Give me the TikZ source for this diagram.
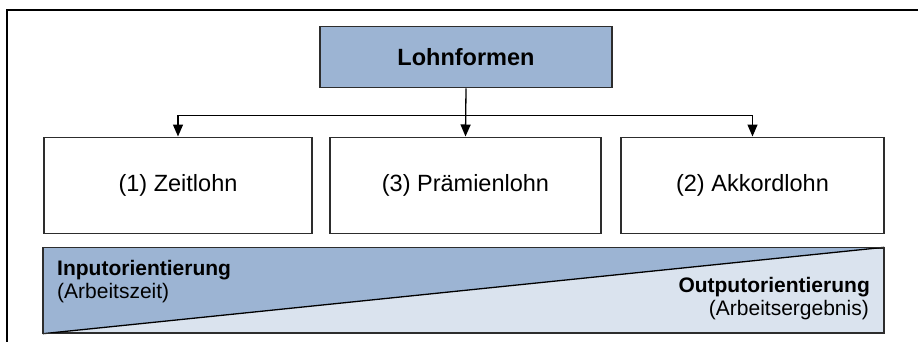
\documentclass[tikz,border=0pt]{standalone}
\usepackage{fontspec}
\setmainfont{Liberation Sans}
\usetikzlibrary{arrows.meta}
\definecolor{bluedark}{RGB}{156,180,211}
\definecolor{bluelight}{RGB}{218,227,238}
\definecolor{edgegray}{RGB}{45,45,45}
\begin{document}
\begin{tikzpicture}[x=1pt,y=-1pt,
  box/.style={draw=edgegray, line width=1.4pt, fill=white, inner sep=0pt,
              font=\fontsize{23.5}{28}\selectfont, minimum height=96pt},
  headbox/.style={box, fill=bluedark, font=\fontsize{23.5}{28}\selectfont\bfseries,
              minimum width=292pt, minimum height=61pt},
  conn/.style={draw=black, line width=1.3pt, -{Triangle[width=10pt,length=12pt]}},
  bandtitle/.style={inner sep=0pt, font=\fontsize{21}{25}\selectfont\bfseries},
  bandnote/.style={inner sep=0pt, font=\fontsize{21}{25}\selectfont}]
\useasboundingbox (0,0) rectangle (918,341);

% outer frame, only its top and left edges fall inside the page
\draw[line width=1.5pt, black] (7,345) -- (7,10) -- (925,10);

% root and the three wage forms
\node[headbox] (top) at (466,57.2) {Lohnformen};
\node[box, minimum width=268pt] (z) at (178,185.2) {(1) Zeitlohn};
\node[box, minimum width=271pt] (p) at (465.5,185.2) {(3) Prämienlohn};
\node[box, minimum width=263pt] (a) at (752.5,185.2) {(2) Akkordlohn};

% connectors
\coordinate (bus) at (466,115.7);
\draw[conn] (top.south) -- (p.north);
\draw[conn] (bus) -| (z.north);
\draw[conn] (bus) -| (a.north);

% orientation band with diagonal split
\node[draw=edgegray, line width=1.4pt, fill=bluelight, inner sep=0pt,
      minimum width=840pt, minimum height=85pt] (band) at (463.5,290.5) {};
\fill[bluedark] (band.north west) -- (band.north east) -- (band.south west) -- cycle;
\draw[black, line width=1.3pt] (band.south west) -- (band.north east);
\draw[draw=edgegray, line width=1.4pt] (band.north west) rectangle (band.south east);

\node[bandtitle, anchor=base west] (inT) at (57,275) {Inputorientierung};
\node[bandnote, anchor=base west] (inN) at (57,298) {(Arbeitszeit)};
\node[bandtitle, anchor=base east] (outT) at (870,292) {Outputorientierung};
\node[bandnote, anchor=base east] (outN) at (869,315) {(Arbeitsergebnis)};
\end{tikzpicture}
\end{document}
